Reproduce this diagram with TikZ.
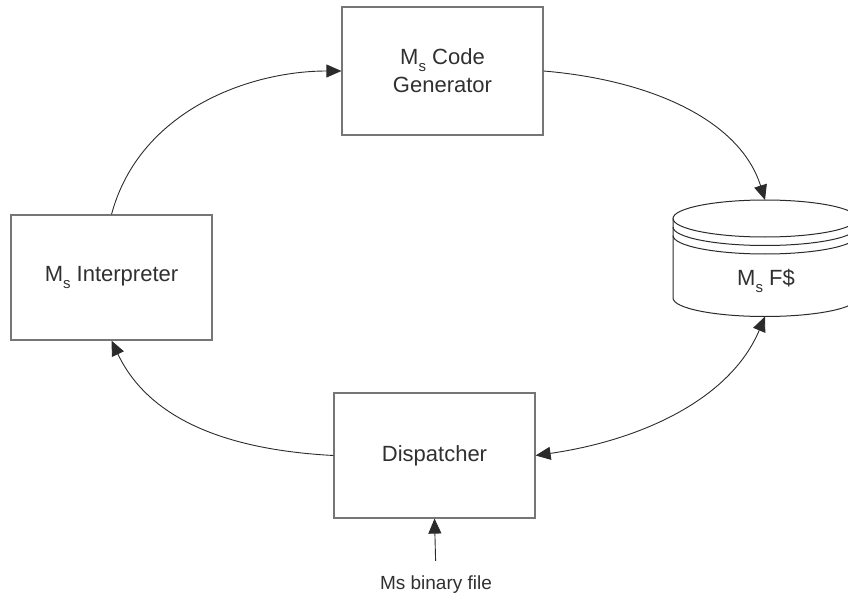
\documentclass[tikz,border=0pt]{standalone}
\usepackage{fontspec}
\setmainfont{Liberation Sans}
\usetikzlibrary{arrows.meta}
\definecolor{boxgray}{HTML}{767676}
\definecolor{wire}{HTML}{2B2B2B}
\definecolor{ink}{HTML}{303030}
% lowered subscript letter, as in "M_s"
\newcommand\subidx[1]{\raisebox{-7pt}{\fontsize{15}{15}\selectfont #1}}

\begin{document}
\begin{tikzpicture}[x=1pt,y=-1pt,
  stage/.style={draw=boxgray, line width=1.2pt, minimum width=201pt,
    minimum height=125pt, inner sep=0pt, text=ink, align=center,
    font=\fontsize{22}{28}\selectfont},
  flow/.style={draw=wire, line width=0.9pt,
    -{Triangle[length=15pt,width=13pt]}},
  bothway/.style={draw=wire, line width=0.9pt,
    {Triangle[length=15pt,width=13pt]}-{Triangle[length=15pt,width=13pt]}},
  drum/.style={draw=wire, line width=1pt}]

\useasboundingbox (0,0) rectangle (848,596);

% processing stages
\node[stage, minimum height=128pt] (codegen) at (442.5,71)
  {M\subidx{s} Code\\Generator};
\node[stage] (interp) at (111.5,277.5) {M\subidx{s} Interpreter};
\node[stage] (disp) at (434.5,455.5) {Dispatcher};

% file store drum (runs off the right edge)
\begin{scope}
  \clip (0,0) rectangle (848,596);
  \draw[drum, fill=white] (673,218.5) -- (673,298)
    arc[start angle=180, end angle=0, x radius=92, y radius=18.5]
    -- (857,218.5);
  \draw[drum] (765,218.5) ellipse[x radius=92, y radius=18.5];
  \draw[drum] (673,227) arc[start angle=180, end angle=0, x radius=92, y radius=18.5];
  \draw[drum] (673,235.5) arc[start angle=180, end angle=0, x radius=92, y radius=18.5];
\end{scope}
\node[text=ink, font=\fontsize{22}{26}\selectfont] (fs) at (766,281) {M\subidx{s} F\$};
\coordinate (fstop) at (765,200);
\coordinate (fsbot) at (765,316.5);

% input label
\node[text=ink, font=\fontsize{19}{22}\selectfont, inner sep=0pt] (msfile) at (436,585)
  {Ms binary file};

% connectors
\draw[flow] (interp.north) .. controls +(28,-104) and +(-92,0) .. (codegen.west);
\draw[flow] (codegen.east) .. controls +(107,9) and +(-25,-80) .. (fstop);
\draw[bothway] (fsbot) .. controls +(-35,83.5) and +(104,-15) .. (disp.east);
\draw[flow] (disp.west) .. controls +(-104,-5.5) and +(38,80) .. (interp.south);
\draw[flow, shorten <=15pt] (msfile.north) -- (disp.south);
\end{tikzpicture}
\end{document}
